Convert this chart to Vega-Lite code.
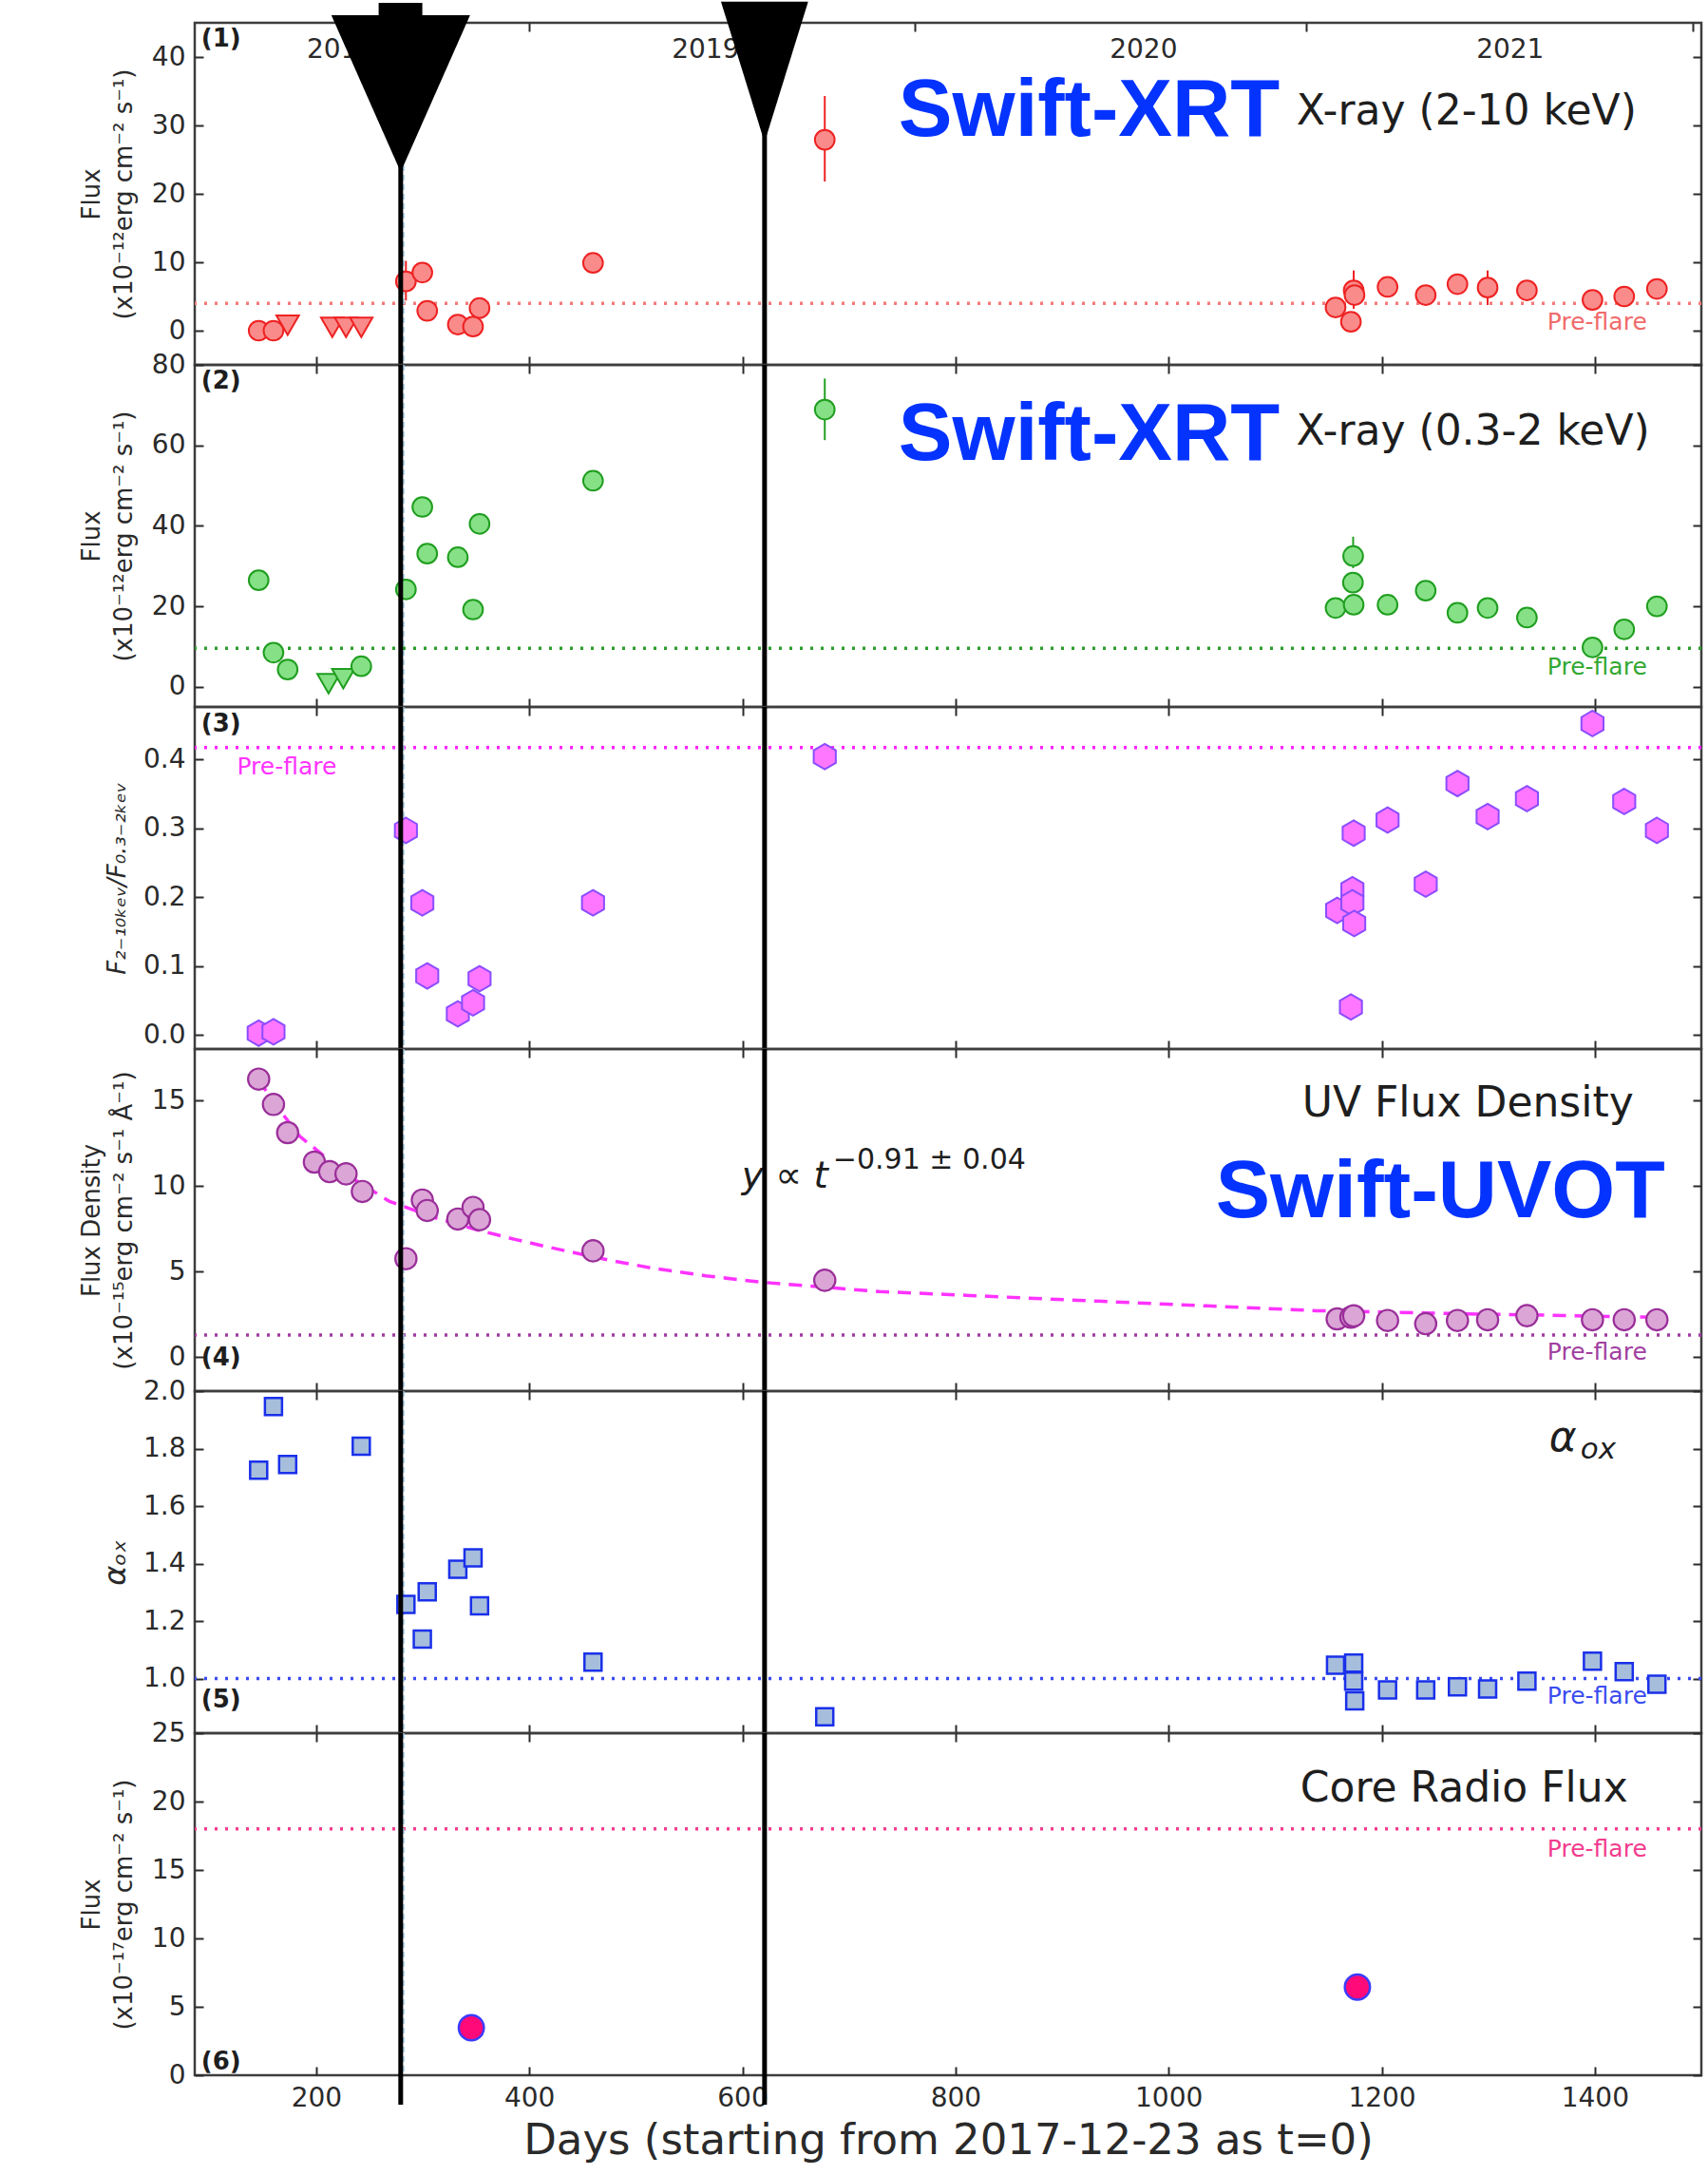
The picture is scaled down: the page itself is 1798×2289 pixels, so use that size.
{
 "$schema": "https://vega.github.io/schema/vega-lite/v6.json",
 "padding": {"left": 82, "top": 0, "right": 0, "bottom": 0},
 "background": "white",
 "bounds": "flush",
 "spacing": 0,
 "config": {
  "view": {"stroke": "#3d3d3d", "strokeWidth": 2.5},
  "axis": {"domain": false, "grid": false, "tickColor": "#2a2a2a", "tickWidth": 2, "labelFont": "DejaVu Sans", "labelFontSize": 28, "labelColor": "#2a2a2a", "labelOverlap": false, "titleFont": "DejaVu Sans", "titleFontWeight": "normal", "titleColor": "#2a2a2a"},
  "text": {"font": "DejaVu Sans"}
 },
 "datasets": {
  "x1det": [
   {"day": 146.0, "flux": 0.0}, {"day": 159.9, "flux": 0.0}, {"day": 284.2, "flux": 7.2}, {"day": 299.6, "flux": 8.5},
   {"day": 304.2, "flux": 2.9}, {"day": 332.9, "flux": 0.9}, {"day": 347.2, "flux": 0.6}, {"day": 353.3, "flux": 3.3},
   {"day": 459.8, "flux": 9.9}, {"day": 677.3, "flux": 27.9}, {"day": 1156.7, "flux": 3.4}, {"day": 1171.1, "flux": 1.3},
   {"day": 1173.7, "flux": 5.9}, {"day": 1174.5, "flux": 5.2}, {"day": 1205.5, "flux": 6.4}, {"day": 1241.3, "flux": 5.2},
   {"day": 1271.1, "flux": 6.8}, {"day": 1299.4, "flux": 6.3}, {"day": 1336.3, "flux": 5.9}, {"day": 1397.8, "flux": 4.5},
   {"day": 1427.6, "flux": 5.0}, {"day": 1458.3, "flux": 6.1}
  ],
  "x1ul": [{"day": 173.2, "flux": 0.8}, {"day": 215.1, "flux": 0.5}, {"day": 228.0, "flux": 0.5}, {"day": 242.3, "flux": 0.5}],
  "err1": [{"day": 284.2, "lo": 4.4, "hi": 10.2}, {"day": 677.3, "lo": 21.8, "hi": 34.3}, {"day": 1173.7, "lo": 3.2, "hi": 8.8}, {"day": 1299.4, "lo": 3.75, "hi": 8.8}],
  "x2det": [
   {"day": 146.0, "flux": 26.5}, {"day": 159.9, "flux": 8.5}, {"day": 173.2, "flux": 4.3}, {"day": 242.3, "flux": 5.1},
   {"day": 284.2, "flux": 24.2}, {"day": 299.6, "flux": 44.7}, {"day": 304.2, "flux": 33.1}, {"day": 332.9, "flux": 32.2},
   {"day": 347.2, "flux": 19.2}, {"day": 353.3, "flux": 40.5}, {"day": 459.8, "flux": 51.2}, {"day": 677.3, "flux": 68.9},
   {"day": 1156.7, "flux": 19.6}, {"day": 1173.7, "flux": 20.4}, {"day": 1173.0, "flux": 25.9}, {"day": 1173.2, "flux": 32.5},
   {"day": 1205.5, "flux": 20.4}, {"day": 1241.3, "flux": 23.9}, {"day": 1271.1, "flux": 18.4}, {"day": 1299.4, "flux": 19.6},
   {"day": 1336.3, "flux": 17.2}, {"day": 1397.8, "flux": 9.8}, {"day": 1427.6, "flux": 14.3}, {"day": 1458.3, "flux": 20.0}
  ],
  "x2ul": [{"day": 211.6, "flux": 0.8}, {"day": 225.4, "flux": 2.0}],
  "err2": [{"day": 677.3, "lo": 61.3, "hi": 76.6}, {"day": 1173.2, "lo": 29.5, "hi": 37.3}],
  "ratio": [
   {"day": 146.0, "r": 0.003}, {"day": 159.9, "r": 0.005}, {"day": 284.2, "r": 0.297}, {"day": 299.6, "r": 0.192},
   {"day": 304.2, "r": 0.086}, {"day": 332.9, "r": 0.031}, {"day": 347.2, "r": 0.047}, {"day": 353.3, "r": 0.082},
   {"day": 459.8, "r": 0.192}, {"day": 677.3, "r": 0.404}, {"day": 1158.2, "r": 0.181}, {"day": 1172.5, "r": 0.211},
   {"day": 1172.5, "r": 0.192}, {"day": 1173.7, "r": 0.293}, {"day": 1174.2, "r": 0.162}, {"day": 1171.1, "r": 0.041},
   {"day": 1205.5, "r": 0.312}, {"day": 1241.3, "r": 0.219}, {"day": 1271.1, "r": 0.365}, {"day": 1299.4, "r": 0.317},
   {"day": 1336.3, "r": 0.343}, {"day": 1397.8, "r": 0.452}, {"day": 1427.6, "r": 0.339}, {"day": 1458.3, "r": 0.297}
  ],
  "uv": [
   {"day": 146.0, "f": 16.24}, {"day": 159.9, "f": 14.76}, {"day": 173.2, "f": 13.11}, {"day": 198.3, "f": 11.39},
   {"day": 212.6, "f": 10.83}, {"day": 228.0, "f": 10.7}, {"day": 243.3, "f": 9.67}, {"day": 284.2, "f": 5.74},
   {"day": 299.6, "f": 9.17}, {"day": 304.2, "f": 8.56}, {"day": 332.9, "f": 8.06}, {"day": 347.2, "f": 8.74},
   {"day": 353.3, "f": 8.02}, {"day": 459.8, "f": 6.2}, {"day": 677.3, "f": 4.48}, {"day": 1158.2, "f": 2.22},
   {"day": 1171.1, "f": 2.32}, {"day": 1173.7, "f": 2.4}, {"day": 1205.5, "f": 2.13}, {"day": 1241.3, "f": 1.94},
   {"day": 1271.1, "f": 2.13}, {"day": 1299.4, "f": 2.17}, {"day": 1336.3, "f": 2.41}, {"day": 1397.8, "f": 2.17},
   {"day": 1427.6, "f": 2.17}, {"day": 1458.3, "f": 2.17}
  ],
  "uvfit": [
   {"day": 146, "f": 16.2}, {"day": 160, "f": 14.9}, {"day": 184.5, "f": 12.9}, {"day": 230, "f": 10.6},
   {"day": 268.9, "f": 9.09}, {"day": 309.8, "f": 8.17}, {"day": 350.8, "f": 7.43}, {"day": 386.6, "f": 6.87},
   {"day": 412, "f": 6.5}, {"day": 473.6, "f": 5.67}, {"day": 514.6, "f": 5.2}, {"day": 565.7, "f": 4.74},
   {"day": 617, "f": 4.37}, {"day": 728.5, "f": 3.82}, {"day": 831, "f": 3.54}, {"day": 933.6, "f": 3.26},
   {"day": 1036, "f": 2.98}, {"day": 1138.7, "f": 2.7}, {"day": 1250, "f": 2.55}, {"day": 1369.6, "f": 2.42},
   {"day": 1466, "f": 2.3}
  ],
  "aox": [
   {"day": 146.0, "a": 1.725}, {"day": 159.9, "a": 1.946}, {"day": 173.2, "a": 1.745}, {"day": 242.3, "a": 1.808},
   {"day": 284.2, "a": 1.258}, {"day": 299.6, "a": 1.137}, {"day": 304.2, "a": 1.302}, {"day": 332.9, "a": 1.38},
   {"day": 347.2, "a": 1.42}, {"day": 353.3, "a": 1.253}, {"day": 459.8, "a": 1.057}, {"day": 677.3, "a": 0.867},
   {"day": 1156.7, "a": 1.046}, {"day": 1173.7, "a": 1.054}, {"day": 1173.7, "a": 0.991}, {"day": 1174.7, "a": 0.922},
   {"day": 1205.5, "a": 0.96}, {"day": 1241.3, "a": 0.96}, {"day": 1271.1, "a": 0.971}, {"day": 1299.4, "a": 0.964},
   {"day": 1336.3, "a": 0.991}, {"day": 1397.8, "a": 1.06}, {"day": 1427.6, "a": 1.024}, {"day": 1458.3, "a": 0.98}
  ],
  "radio": [{"day": 345.6, "f": 3.47}, {"day": 1177.2, "f": 6.44}],
  "vlines": [{"day": 279.3}, {"day": 620.8}],
  "bluedash": [{"day": 281.7}]
 },
 "vconcat": [
  {
   "width": 1586, "height": 360,
   "resolve": {"axis": {"x": "independent", "y": "independent"}},
   "layer": [
    {"data": {"values": [{"v": 4.0}]}, "mark": {"type": "rule", "color": "#f47a7a", "strokeWidth": 3.5, "strokeDash": [3, 8]},
     "encoding": {"y": {"field": "v", "type": "quantitative", "scale": {"domain": [-5, 45], "nice": false, "zero": false}, "axis": {"orient": "right", "values": [0, 10, 20, 30, 40], "labels": false, "tickSize": -9, "title": null}}}},
    {"data": {"name": "bluedash"}, "mark": {"type": "rule", "color": "#a9cfe8", "strokeWidth": 2.5, "strokeDash": [6, 4]},
     "encoding": {"x": {"field": "day", "type": "quantitative", "scale": {"domain": [86, 1500], "nice": false, "zero": false}, "axis": null}}},
    {"data": {"name": "err1"}, "mark": {"type": "rule", "color": "#ee2222", "strokeWidth": 2},
     "encoding": {"x": {"field": "day", "type": "quantitative", "scale": {"domain": [86, 1500], "nice": false, "zero": false}, "axis": null},
      "y": {"field": "lo", "type": "quantitative", "scale": {"domain": [-5, 45], "nice": false, "zero": false}, "axis": null}, "y2": {"field": "hi"}}},
    {"data": {"name": "x1ul"}, "mark": {"type": "point", "shape": "triangle-down", "filled": true, "fill": "#f98b8b", "stroke": "#ee2222", "strokeWidth": 2, "size": 560, "opacity": 1},
     "encoding": {"x": {"field": "day", "type": "quantitative", "scale": {"domain": [86, 1500], "nice": false, "zero": false}, "axis": null},
      "y": {"field": "flux", "type": "quantitative", "scale": {"domain": [-5, 45], "nice": false, "zero": false}, "axis": null}}},
    {"data": {"name": "x1det"}, "mark": {"type": "point", "shape": "circle", "filled": true, "fill": "#f98b8b", "stroke": "#ee2222", "strokeWidth": 2, "size": 430, "opacity": 1},
     "encoding": {"x": {"field": "day", "type": "quantitative", "scale": {"domain": [86, 1500], "nice": false, "zero": false}, "axis": {"orient": "bottom", "values": [200, 400, 600, 800, 1000, 1200, 1400], "labels": false, "tickSize": -9, "title": null}},
      "y": {"field": "flux", "type": "quantitative", "scale": {"domain": [-5, 45], "nice": false, "zero": false}, "axis": {"orient": "left", "values": [0, 10, 20, 30, 40], "tickSize": -9, "labelPadding": 19, "title": ["Flux", "(x10⁻¹²erg cm⁻² s⁻¹)"], "titleFontSize": 26, "titleLineHeight": 34, "titlePadding": 16}}}},
    {"data": {"values": [{"d": 223, "v": 39.9, "t": "2018"}, {"d": 565.5, "v": 39.9, "t": "2019"}, {"d": 976.5, "v": 39.9, "t": "2020"}, {"d": 1320.6, "v": 39.9, "t": "2021"}]},
     "mark": {"type": "text", "fontSize": 28, "align": "center", "baseline": "alphabetic", "color": "#2a2a2a"},
     "encoding": {"x": {"field": "d", "type": "quantitative", "scale": {"domain": [86, 1500], "nice": false, "zero": false}, "axis": null},
      "y": {"field": "v", "type": "quantitative", "scale": {"domain": [-5, 45], "nice": false, "zero": false}, "axis": null}, "text": {"field": "t"}}},
    {"data": {"values": [{"d": 92.1, "v": 41.5, "t": "(1)"}]},
     "mark": {"type": "text", "fontSize": 26, "fontWeight": "bold", "align": "left", "baseline": "alphabetic", "color": "#1e1e1e"},
     "encoding": {"x": {"field": "d", "type": "quantitative", "scale": {"domain": [86, 1500], "nice": false, "zero": false}, "axis": null},
      "y": {"field": "v", "type": "quantitative", "scale": {"domain": [-5, 45], "nice": false, "zero": false}, "axis": null}, "text": {"field": "t"}}},
    {"data": {"values": [{"d": 1439.2, "v": 30.2, "t": "X-ray (2-10 keV)"}]},
     "mark": {"type": "text", "fontSize": 44, "align": "right", "baseline": "alphabetic", "color": "#1e1e1e"},
     "encoding": {"x": {"field": "d", "type": "quantitative", "scale": {"domain": [86, 1500], "nice": false, "zero": false}, "axis": null},
      "y": {"field": "v", "type": "quantitative", "scale": {"domain": [-5, 45], "nice": false, "zero": false}, "axis": null}, "text": {"field": "t"}}},
    {"data": {"values": [{"d": 1449, "v": 0.2, "t": "Pre-flare"}]},
     "mark": {"type": "text", "fontSize": 25, "align": "right", "baseline": "alphabetic", "color": "#f06a6a"},
     "encoding": {"x": {"field": "d", "type": "quantitative", "scale": {"domain": [86, 1500], "nice": false, "zero": false}, "axis": null},
      "y": {"field": "v", "type": "quantitative", "scale": {"domain": [-5, 45], "nice": false, "zero": false}, "axis": null}, "text": {"field": "t"}}},
    {"data": {"values": [{"d": 746.5, "v": 28.5, "t": "Swift-XRT"}]},
     "mark": {"type": "text", "font": "Liberation Sans", "fontWeight": "bold", "fontSize": 85, "align": "left", "baseline": "alphabetic", "color": "#0433ff"},
     "encoding": {"x": {"field": "d", "type": "quantitative", "scale": {"domain": [86, 1500], "nice": false, "zero": false}, "axis": null},
      "y": {"field": "v", "type": "quantitative", "scale": {"domain": [-5, 45], "nice": false, "zero": false}, "axis": null}, "text": {"field": "t"}}},
    {"data": {"name": "vlines"}, "mark": {"type": "rule", "color": "#000000", "strokeWidth": 5},
     "encoding": {"x": {"field": "day", "type": "quantitative", "scale": {"domain": [86, 1500], "nice": false, "zero": false}, "axis": {"orient": "top", "values": [400, 762, 1129, 1492], "labels": false, "tickSize": -9, "title": null}}}},
    {"data": {"values": [{"d1": 258.6, "d2": 299.6, "v1": 46.11, "v2": 47.9}]}, "mark": {"type": "rect", "color": "#000000"},
     "encoding": {"x": {"field": "d1", "type": "quantitative", "scale": {"domain": [86, 1500], "nice": false, "zero": false}, "axis": null}, "x2": {"field": "d2"},
      "y": {"field": "v1", "type": "quantitative", "scale": {"domain": [-5, 45], "nice": false, "zero": false}, "axis": null}, "y2": {"field": "v2"}}},
    {"data": {"values": [{"d": 279.3, "v": 34.65}]}, "mark": {"type": "point", "shape": "M -0.885 -1 L 0.885 -1 L 0 1 Z", "filled": true, "color": "#000000", "size": 27225, "opacity": 1},
     "encoding": {"x": {"field": "d", "type": "quantitative", "scale": {"domain": [86, 1500], "nice": false, "zero": false}, "axis": null},
      "y": {"field": "v", "type": "quantitative", "scale": {"domain": [-5, 45], "nice": false, "zero": false}, "axis": null}}},
    {"data": {"values": [{"d": 620.8, "v": 37.8}]}, "mark": {"type": "point", "shape": "M -0.62 -1 L 0.62 -1 L 0 1 Z", "filled": true, "color": "#000000", "size": 21904, "opacity": 1},
     "encoding": {"x": {"field": "d", "type": "quantitative", "scale": {"domain": [86, 1500], "nice": false, "zero": false}, "axis": null},
      "y": {"field": "v", "type": "quantitative", "scale": {"domain": [-5, 45], "nice": false, "zero": false}, "axis": null}}}
   ]
  },
  {
   "width": 1586, "height": 360,
   "resolve": {"axis": {"x": "independent", "y": "independent"}},
   "layer": [
    {"data": {"values": [{"v": 9.6}]}, "mark": {"type": "rule", "color": "#2e9e2e", "strokeWidth": 3.5, "strokeDash": [3, 8]},
     "encoding": {"y": {"field": "v", "type": "quantitative", "scale": {"domain": [-5, 80], "nice": false, "zero": false}, "axis": {"orient": "right", "values": [0, 20, 40, 60, 80], "labels": false, "tickSize": -9, "title": null}}}},
    {"data": {"name": "bluedash"}, "mark": {"type": "rule", "color": "#a9cfe8", "strokeWidth": 2.5, "strokeDash": [6, 4]},
     "encoding": {"x": {"field": "day", "type": "quantitative", "scale": {"domain": [86, 1500], "nice": false, "zero": false}, "axis": null}}},
    {"data": {"name": "err2"}, "mark": {"type": "rule", "color": "#22a022", "strokeWidth": 2},
     "encoding": {"x": {"field": "day", "type": "quantitative", "scale": {"domain": [86, 1500], "nice": false, "zero": false}, "axis": null},
      "y": {"field": "lo", "type": "quantitative", "scale": {"domain": [-5, 80], "nice": false, "zero": false}, "axis": null}, "y2": {"field": "hi"}}},
    {"data": {"name": "x2ul"}, "mark": {"type": "point", "shape": "triangle-down", "filled": true, "fill": "#86e086", "stroke": "#1f9e1f", "strokeWidth": 2, "size": 560, "opacity": 1},
     "encoding": {"x": {"field": "day", "type": "quantitative", "scale": {"domain": [86, 1500], "nice": false, "zero": false}, "axis": null},
      "y": {"field": "flux", "type": "quantitative", "scale": {"domain": [-5, 80], "nice": false, "zero": false}, "axis": null}}},
    {"data": {"name": "x2det"}, "mark": {"type": "point", "shape": "circle", "filled": true, "fill": "#86e086", "stroke": "#1f9e1f", "strokeWidth": 2, "size": 430, "opacity": 1},
     "encoding": {"x": {"field": "day", "type": "quantitative", "scale": {"domain": [86, 1500], "nice": false, "zero": false}, "axis": {"orient": "bottom", "values": [200, 400, 600, 800, 1000, 1200, 1400], "labels": false, "tickSize": -9, "title": null}},
      "y": {"field": "flux", "type": "quantitative", "scale": {"domain": [-5, 80], "nice": false, "zero": false}, "axis": {"orient": "left", "values": [0, 20, 40, 60, 80], "tickSize": -9, "labelPadding": 19, "title": ["Flux", "(x10⁻¹²erg cm⁻² s⁻¹)"], "titleFontSize": 26, "titleLineHeight": 34, "titlePadding": 16}}}},
    {"data": {"values": [{"d": 92.1, "v": 74.0, "t": "(2)"}]},
     "mark": {"type": "text", "fontSize": 26, "fontWeight": "bold", "align": "left", "baseline": "alphabetic", "color": "#1e1e1e"},
     "encoding": {"x": {"field": "d", "type": "quantitative", "scale": {"domain": [86, 1500], "nice": false, "zero": false}, "axis": null},
      "y": {"field": "v", "type": "quantitative", "scale": {"domain": [-5, 80], "nice": false, "zero": false}, "axis": null}, "text": {"field": "t"}}},
    {"data": {"values": [{"d": 1451.6, "v": 60.2, "t": "X-ray (0.3-2 keV)"}]},
     "mark": {"type": "text", "fontSize": 44, "align": "right", "baseline": "alphabetic", "color": "#1e1e1e"},
     "encoding": {"x": {"field": "d", "type": "quantitative", "scale": {"domain": [86, 1500], "nice": false, "zero": false}, "axis": null},
      "y": {"field": "v", "type": "quantitative", "scale": {"domain": [-5, 80], "nice": false, "zero": false}, "axis": null}, "text": {"field": "t"}}},
    {"data": {"values": [{"d": 1449, "v": 3.0, "t": "Pre-flare"}]},
     "mark": {"type": "text", "fontSize": 25, "align": "right", "baseline": "alphabetic", "color": "#33a833"},
     "encoding": {"x": {"field": "d", "type": "quantitative", "scale": {"domain": [86, 1500], "nice": false, "zero": false}, "axis": null},
      "y": {"field": "v", "type": "quantitative", "scale": {"domain": [-5, 80], "nice": false, "zero": false}, "axis": null}, "text": {"field": "t"}}},
    {"data": {"values": [{"d": 746.5, "v": 56.4, "t": "Swift-XRT"}]},
     "mark": {"type": "text", "font": "Liberation Sans", "fontWeight": "bold", "fontSize": 85, "align": "left", "baseline": "alphabetic", "color": "#0433ff"},
     "encoding": {"x": {"field": "d", "type": "quantitative", "scale": {"domain": [86, 1500], "nice": false, "zero": false}, "axis": null},
      "y": {"field": "v", "type": "quantitative", "scale": {"domain": [-5, 80], "nice": false, "zero": false}, "axis": null}, "text": {"field": "t"}}},
    {"data": {"name": "vlines"}, "mark": {"type": "rule", "color": "#000000", "strokeWidth": 5},
     "encoding": {"x": {"field": "day", "type": "quantitative", "scale": {"domain": [86, 1500], "nice": false, "zero": false}, "axis": {"orient": "top", "values": [200, 400, 600, 800, 1000, 1200, 1400], "labels": false, "tickSize": -9, "title": null}}}}
   ]
  },
  {
   "width": 1586, "height": 360,
   "resolve": {"axis": {"x": "independent", "y": "independent"}},
   "layer": [
    {"data": {"values": [{"v": 0.417}]}, "mark": {"type": "rule", "color": "#ff22ff", "strokeWidth": 3.5, "strokeDash": [3, 8]},
     "encoding": {"y": {"field": "v", "type": "quantitative", "scale": {"domain": [-0.02, 0.476], "nice": false, "zero": false}, "axis": {"orient": "right", "values": [0, 0.1, 0.2, 0.3, 0.4], "labels": false, "tickSize": -9, "title": null}}}},
    {"data": {"name": "bluedash"}, "mark": {"type": "rule", "color": "#a9cfe8", "strokeWidth": 2.5, "strokeDash": [6, 4]},
     "encoding": {"x": {"field": "day", "type": "quantitative", "scale": {"domain": [86, 1500], "nice": false, "zero": false}, "axis": null}}},
    {"data": {"name": "ratio"}, "mark": {"type": "point", "shape": "M 0 -1 L 0.866 -0.5 L 0.866 0.5 L 0 1 L -0.866 0.5 L -0.866 -0.5 Z", "filled": true, "fill": "#ff77ff", "stroke": "#8a4dff", "strokeWidth": 2, "size": 720, "opacity": 1},
     "encoding": {"x": {"field": "day", "type": "quantitative", "scale": {"domain": [86, 1500], "nice": false, "zero": false}, "axis": {"orient": "bottom", "values": [200, 400, 600, 800, 1000, 1200, 1400], "labels": false, "tickSize": -9, "title": null}},
      "y": {"field": "r", "type": "quantitative", "scale": {"domain": [-0.02, 0.476], "nice": false, "zero": false}, "axis": {"orient": "left", "values": [0, 0.1, 0.2, 0.3, 0.4], "format": ".1f", "tickSize": -9, "labelPadding": 19, "title": "F₂₋₁₀ₖₑᵥ/F₀.₃₋₂ₖₑᵥ", "titleFontSize": 26, "titleFontStyle": "italic", "titlePadding": 14}}}},
    {"data": {"values": [{"d": 92.1, "v": 0.44, "t": "(3)"}]},
     "mark": {"type": "text", "fontSize": 26, "fontWeight": "bold", "align": "left", "baseline": "alphabetic", "color": "#1e1e1e"},
     "encoding": {"x": {"field": "d", "type": "quantitative", "scale": {"domain": [86, 1500], "nice": false, "zero": false}, "axis": null},
      "y": {"field": "v", "type": "quantitative", "scale": {"domain": [-0.02, 0.476], "nice": false, "zero": false}, "axis": null}, "text": {"field": "t"}}},
    {"data": {"values": [{"d": 125.6, "v": 0.378, "t": "Pre-flare"}]},
     "mark": {"type": "text", "fontSize": 25, "align": "left", "baseline": "alphabetic", "color": "#ff33ff"},
     "encoding": {"x": {"field": "d", "type": "quantitative", "scale": {"domain": [86, 1500], "nice": false, "zero": false}, "axis": null},
      "y": {"field": "v", "type": "quantitative", "scale": {"domain": [-0.02, 0.476], "nice": false, "zero": false}, "axis": null}, "text": {"field": "t"}}},
    {"data": {"name": "vlines"}, "mark": {"type": "rule", "color": "#000000", "strokeWidth": 5},
     "encoding": {"x": {"field": "day", "type": "quantitative", "scale": {"domain": [86, 1500], "nice": false, "zero": false}, "axis": {"orient": "top", "values": [200, 400, 600, 800, 1000, 1200, 1400], "labels": false, "tickSize": -9, "title": null}}}}
   ]
  },
  {
   "width": 1586, "height": 360,
   "resolve": {"axis": {"x": "independent", "y": "independent"}},
   "layer": [
    {"data": {"values": [{"v": 1.28}]}, "mark": {"type": "rule", "color": "#a03ca0", "strokeWidth": 3.5, "strokeDash": [3, 8]},
     "encoding": {"y": {"field": "v", "type": "quantitative", "scale": {"domain": [-2, 18], "nice": false, "zero": false}, "axis": {"orient": "right", "values": [0, 5, 10, 15], "labels": false, "tickSize": -9, "title": null}}}},
    {"data": {"name": "bluedash"}, "mark": {"type": "rule", "color": "#a9cfe8", "strokeWidth": 2.5, "strokeDash": [6, 4]},
     "encoding": {"x": {"field": "day", "type": "quantitative", "scale": {"domain": [86, 1500], "nice": false, "zero": false}, "axis": null}}},
    {"data": {"name": "uvfit"}, "mark": {"type": "line", "color": "#ff33ff", "strokeWidth": 3.5, "strokeDash": [14, 9]},
     "encoding": {"x": {"field": "day", "type": "quantitative", "scale": {"domain": [86, 1500], "nice": false, "zero": false}, "axis": null},
      "y": {"field": "f", "type": "quantitative", "scale": {"domain": [-2, 18], "nice": false, "zero": false}, "axis": null}}},
    {"data": {"name": "uv"}, "mark": {"type": "point", "shape": "circle", "filled": true, "fill": "#dba6d6", "stroke": "#9a2e9a", "strokeWidth": 2.2, "size": 500, "opacity": 1},
     "encoding": {"x": {"field": "day", "type": "quantitative", "scale": {"domain": [86, 1500], "nice": false, "zero": false}, "axis": {"orient": "bottom", "values": [200, 400, 600, 800, 1000, 1200, 1400], "labels": false, "tickSize": -9, "title": null}},
      "y": {"field": "f", "type": "quantitative", "scale": {"domain": [-2, 18], "nice": false, "zero": false}, "axis": {"orient": "left", "values": [0, 5, 10, 15], "tickSize": -9, "labelPadding": 19, "title": ["Flux Density", "(x10⁻¹⁵erg cm⁻² s⁻¹ Å⁻¹)"], "titleFontSize": 26, "titleLineHeight": 34, "titlePadding": 16}}}},
    {"data": {"values": [{"d": 92.1, "v": -0.52, "t": "(4)"}]},
     "mark": {"type": "text", "fontSize": 26, "fontWeight": "bold", "align": "left", "baseline": "alphabetic", "color": "#1e1e1e"},
     "encoding": {"x": {"field": "d", "type": "quantitative", "scale": {"domain": [86, 1500], "nice": false, "zero": false}, "axis": null},
      "y": {"field": "v", "type": "quantitative", "scale": {"domain": [-2, 18], "nice": false, "zero": false}, "axis": null}, "text": {"field": "t"}}},
    {"data": {"values": [{"d": 1436.5, "v": 14.06, "t": "UV Flux Density"}]},
     "mark": {"type": "text", "fontSize": 44, "align": "right", "baseline": "alphabetic", "color": "#1e1e1e"},
     "encoding": {"x": {"field": "d", "type": "quantitative", "scale": {"domain": [86, 1500], "nice": false, "zero": false}, "axis": null},
      "y": {"field": "v", "type": "quantitative", "scale": {"domain": [-2, 18], "nice": false, "zero": false}, "axis": null}, "text": {"field": "t"}}},
    {"data": {"values": [{"d": 599.4, "v": 9.87, "t": "y ∝ t"}]},
     "mark": {"type": "text", "fontSize": 39, "fontStyle": "italic", "align": "left", "baseline": "alphabetic", "color": "#1e1e1e"},
     "encoding": {"x": {"field": "d", "type": "quantitative", "scale": {"domain": [86, 1500], "nice": false, "zero": false}, "axis": null},
      "y": {"field": "v", "type": "quantitative", "scale": {"domain": [-2, 18], "nice": false, "zero": false}, "axis": null}, "text": {"field": "t"}}},
    {"data": {"values": [{"d": 685, "v": 10.98, "t": "−0.91 ± 0.04"}]},
     "mark": {"type": "text", "fontSize": 30, "align": "left", "baseline": "alphabetic", "color": "#1e1e1e"},
     "encoding": {"x": {"field": "d", "type": "quantitative", "scale": {"domain": [86, 1500], "nice": false, "zero": false}, "axis": null},
      "y": {"field": "v", "type": "quantitative", "scale": {"domain": [-2, 18], "nice": false, "zero": false}, "axis": null}, "text": {"field": "t"}}},
    {"data": {"values": [{"d": 1449, "v": -0.18, "t": "Pre-flare"}]},
     "mark": {"type": "text", "fontSize": 25, "align": "right", "baseline": "alphabetic", "color": "#a040a0"},
     "encoding": {"x": {"field": "d", "type": "quantitative", "scale": {"domain": [86, 1500], "nice": false, "zero": false}, "axis": null},
      "y": {"field": "v", "type": "quantitative", "scale": {"domain": [-2, 18], "nice": false, "zero": false}, "axis": null}, "text": {"field": "t"}}},
    {"data": {"values": [{"d": 1044.2, "v": 8.15, "t": "Swift-UVOT"}]},
     "mark": {"type": "text", "font": "Liberation Sans", "fontWeight": "bold", "fontSize": 86, "align": "left", "baseline": "alphabetic", "color": "#0433ff"},
     "encoding": {"x": {"field": "d", "type": "quantitative", "scale": {"domain": [86, 1500], "nice": false, "zero": false}, "axis": null},
      "y": {"field": "v", "type": "quantitative", "scale": {"domain": [-2, 18], "nice": false, "zero": false}, "axis": null}, "text": {"field": "t"}}},
    {"data": {"name": "vlines"}, "mark": {"type": "rule", "color": "#000000", "strokeWidth": 5},
     "encoding": {"x": {"field": "day", "type": "quantitative", "scale": {"domain": [86, 1500], "nice": false, "zero": false}, "axis": {"orient": "top", "values": [200, 400, 600, 800, 1000, 1200, 1400], "labels": false, "tickSize": -9, "title": null}}}}
   ]
  },
  {
   "width": 1586, "height": 360,
   "resolve": {"axis": {"x": "independent", "y": "independent"}},
   "layer": [
    {"data": {"values": [{"v": 1.0}]}, "mark": {"type": "rule", "color": "#3a4cf0", "strokeWidth": 3.5, "strokeDash": [3, 8]},
     "encoding": {"y": {"field": "v", "type": "quantitative", "scale": {"domain": [0.81, 2.0], "nice": false, "zero": false}, "axis": {"orient": "right", "values": [1.0, 1.2, 1.4, 1.6, 1.8, 2.0], "labels": false, "tickSize": -9, "title": null}}}},
    {"data": {"name": "bluedash"}, "mark": {"type": "rule", "color": "#a9cfe8", "strokeWidth": 2.5, "strokeDash": [6, 4]},
     "encoding": {"x": {"field": "day", "type": "quantitative", "scale": {"domain": [86, 1500], "nice": false, "zero": false}, "axis": null}}},
    {"data": {"name": "aox"}, "mark": {"type": "point", "shape": "square", "filled": true, "fill": "#a6bedc", "stroke": "#1a30ea", "strokeWidth": 2.5, "size": 324, "opacity": 1},
     "encoding": {"x": {"field": "day", "type": "quantitative", "scale": {"domain": [86, 1500], "nice": false, "zero": false}, "axis": {"orient": "bottom", "values": [200, 400, 600, 800, 1000, 1200, 1400], "labels": false, "tickSize": -9, "title": null}},
      "y": {"field": "a", "type": "quantitative", "scale": {"domain": [0.81, 2.0], "nice": false, "zero": false}, "axis": {"orient": "left", "values": [1.0, 1.2, 1.4, 1.6, 1.8, 2.0], "format": ".1f", "tickSize": -9, "labelPadding": 19, "title": "αₒₓ", "titleFontSize": 32, "titleFontStyle": "italic", "titlePadding": 12}}}},
    {"data": {"values": [{"d": 92.1, "v": 0.9, "t": "(5)"}]},
     "mark": {"type": "text", "fontSize": 26, "fontWeight": "bold", "align": "left", "baseline": "alphabetic", "color": "#1e1e1e"},
     "encoding": {"x": {"field": "d", "type": "quantitative", "scale": {"domain": [86, 1500], "nice": false, "zero": false}, "axis": null},
      "y": {"field": "v", "type": "quantitative", "scale": {"domain": [0.81, 2.0], "nice": false, "zero": false}, "axis": null}, "text": {"field": "t"}}},
    {"data": {"values": [{"d": 1357.1, "v": 1.791, "t": "α"}]},
     "mark": {"type": "text", "fontSize": 44, "fontStyle": "italic", "align": "left", "baseline": "alphabetic", "color": "#1e1e1e"},
     "encoding": {"x": {"field": "d", "type": "quantitative", "scale": {"domain": [86, 1500], "nice": false, "zero": false}, "axis": null},
      "y": {"field": "v", "type": "quantitative", "scale": {"domain": [0.81, 2.0], "nice": false, "zero": false}, "axis": null}, "text": {"field": "t"}}},
    {"data": {"values": [{"d": 1386.6, "v": 1.765, "t": "ox"}]},
     "mark": {"type": "text", "fontSize": 31, "fontStyle": "italic", "align": "left", "baseline": "alphabetic", "color": "#1e1e1e"},
     "encoding": {"x": {"field": "d", "type": "quantitative", "scale": {"domain": [86, 1500], "nice": false, "zero": false}, "axis": null},
      "y": {"field": "v", "type": "quantitative", "scale": {"domain": [0.81, 2.0], "nice": false, "zero": false}, "axis": null}, "text": {"field": "t"}}},
    {"data": {"values": [{"d": 1449, "v": 0.914, "t": "Pre-flare"}]},
     "mark": {"type": "text", "fontSize": 25, "align": "right", "baseline": "alphabetic", "color": "#3a4cf0"},
     "encoding": {"x": {"field": "d", "type": "quantitative", "scale": {"domain": [86, 1500], "nice": false, "zero": false}, "axis": null},
      "y": {"field": "v", "type": "quantitative", "scale": {"domain": [0.81, 2.0], "nice": false, "zero": false}, "axis": null}, "text": {"field": "t"}}},
    {"data": {"name": "vlines"}, "mark": {"type": "rule", "color": "#000000", "strokeWidth": 5},
     "encoding": {"x": {"field": "day", "type": "quantitative", "scale": {"domain": [86, 1500], "nice": false, "zero": false}, "axis": {"orient": "top", "values": [200, 400, 600, 800, 1000, 1200, 1400], "labels": false, "tickSize": -9, "title": null}}}}
   ]
  },
  {
   "width": 1586, "height": 360,
   "resolve": {"axis": {"x": "independent", "y": "independent"}},
   "layer": [
    {"data": {"values": [{"v": 18.0}]}, "mark": {"type": "rule", "color": "#f23c8e", "strokeWidth": 3.5, "strokeDash": [3, 8]},
     "encoding": {"y": {"field": "v", "type": "quantitative", "scale": {"domain": [0, 25], "nice": false, "zero": false}, "axis": {"orient": "right", "values": [0, 5, 10, 15, 20, 25], "labels": false, "tickSize": -9, "title": null}}}},
    {"data": {"name": "bluedash"}, "mark": {"type": "rule", "color": "#a9cfe8", "strokeWidth": 2.5, "strokeDash": [6, 4]},
     "encoding": {"x": {"field": "day", "type": "quantitative", "scale": {"domain": [86, 1500], "nice": false, "zero": false}, "axis": null}}},
    {"data": {"name": "radio"}, "mark": {"type": "point", "shape": "circle", "filled": true, "fill": "#ff0a78", "stroke": "#3b3bff", "strokeWidth": 2.5, "size": 700, "opacity": 1},
     "encoding": {"x": {"field": "day", "type": "quantitative", "scale": {"domain": [86, 1500], "nice": false, "zero": false}, "axis": {"orient": "bottom", "values": [200, 400, 600, 800, 1000, 1200, 1400], "format": "d", "tickSize": -9, "labelPadding": 19, "title": "Days (starting from 2017-12-23 as t=0)", "titleFontSize": 45, "titlePadding": 8}},
      "y": {"field": "f", "type": "quantitative", "scale": {"domain": [0, 25], "nice": false, "zero": false}, "axis": {"orient": "left", "values": [0, 5, 10, 15, 20, 25], "tickSize": -9, "labelPadding": 19, "title": ["Flux", "(x10⁻¹⁷erg cm⁻² s⁻¹)"], "titleFontSize": 26, "titleLineHeight": 34, "titlePadding": 16}}}},
    {"data": {"values": [{"d": 92.1, "v": 0.42, "t": "(6)"}]},
     "mark": {"type": "text", "fontSize": 26, "fontWeight": "bold", "align": "left", "baseline": "alphabetic", "color": "#1e1e1e"},
     "encoding": {"x": {"field": "d", "type": "quantitative", "scale": {"domain": [86, 1500], "nice": false, "zero": false}, "axis": null},
      "y": {"field": "v", "type": "quantitative", "scale": {"domain": [0, 25], "nice": false, "zero": false}, "axis": null}, "text": {"field": "t"}}},
    {"data": {"values": [{"d": 1431.1, "v": 20.0, "t": "Core Radio Flux"}]},
     "mark": {"type": "text", "fontSize": 44, "align": "right", "baseline": "alphabetic", "color": "#1e1e1e"},
     "encoding": {"x": {"field": "d", "type": "quantitative", "scale": {"domain": [86, 1500], "nice": false, "zero": false}, "axis": null},
      "y": {"field": "v", "type": "quantitative", "scale": {"domain": [0, 25], "nice": false, "zero": false}, "axis": null}, "text": {"field": "t"}}},
    {"data": {"values": [{"d": 1449, "v": 15.97, "t": "Pre-flare"}]},
     "mark": {"type": "text", "fontSize": 25, "align": "right", "baseline": "alphabetic", "color": "#f23c8e"},
     "encoding": {"x": {"field": "d", "type": "quantitative", "scale": {"domain": [86, 1500], "nice": false, "zero": false}, "axis": null},
      "y": {"field": "v", "type": "quantitative", "scale": {"domain": [0, 25], "nice": false, "zero": false}, "axis": null}, "text": {"field": "t"}}},
    {"data": {"values": [{"day": 279.3, "lo": -2.15, "hi": 25}, {"day": 620.8, "lo": -2.15, "hi": 25}]}, "mark": {"type": "rule", "color": "#000000", "strokeWidth": 5},
     "encoding": {"x": {"field": "day", "type": "quantitative", "scale": {"domain": [86, 1500], "nice": false, "zero": false}, "axis": {"orient": "top", "values": [200, 400, 600, 800, 1000, 1200, 1400], "labels": false, "tickSize": -9, "title": null}},
      "y": {"field": "lo", "type": "quantitative", "scale": {"domain": [0, 25], "nice": false, "zero": false}, "axis": null}, "y2": {"field": "hi"}}}
   ]
  }
 ]
}
